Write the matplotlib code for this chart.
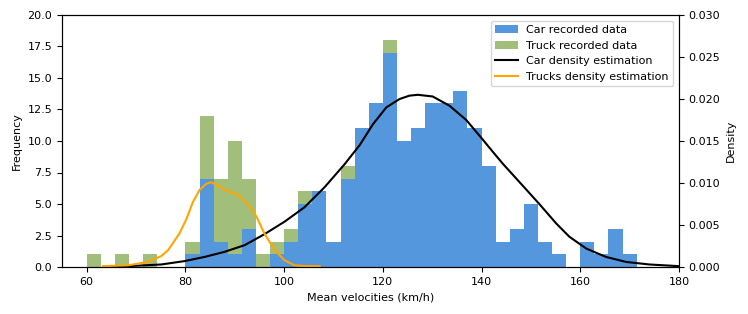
import numpy as np
import matplotlib
matplotlib.use("Agg")
import matplotlib.pyplot as plt

# histogram bins (km/h): 40 bins of width 20/7 starting at 60
bin_edges = 60 + np.arange(41) * (20 / 7)

car_counts = [0, 0, 0, 0, 0, 0, 0, 1, 7, 2, 1, 3, 0, 1, 2, 5, 6, 2, 7, 11,
              13, 17, 10, 11, 13, 13, 14, 11, 8, 2, 3, 5, 2, 1, 0, 2, 1, 3, 1, 0]
truck_counts = [1, 0, 1, 0, 1, 0, 0, 1, 5, 5, 9, 4, 1, 1, 1, 1, 0, 0, 1, 0,
                0, 1, 0, 0, 0, 0, 0, 0, 0, 0, 0, 0, 0, 0, 0, 0, 0, 0, 0, 0]

# density curves
car_kde_x = [63.3, 68.4, 75.1, 79.8, 83.9, 87.9, 92.0, 96.0, 100.1, 104.1, 108.2,
             112.2, 115.3, 118.0, 120.7, 123.4, 125.4, 127.1, 130.1, 133.5, 136.9,
             140.2, 142.3, 144.3, 147.7, 151.7, 155.1, 157.8, 161.2, 165.2, 169.3,
             174.0, 180.0]
car_kde_y = [0.0000, 0.0001, 0.0003, 0.0007, 0.0012, 0.0018, 0.0026, 0.0039, 0.0054,
             0.0071, 0.0095, 0.0122, 0.0145, 0.0170, 0.0190, 0.0200, 0.0204, 0.0205,
             0.0203, 0.0192, 0.0175, 0.0152, 0.0137, 0.0123, 0.0101, 0.0075, 0.0052,
             0.0036, 0.0022, 0.0012, 0.0006, 0.0003, 0.0001]

truck_kde_x = [63.3, 68.4, 72.4, 75.1, 76.5, 78.8, 80.2, 81.5, 82.9, 84.2, 85.2,
               86.6, 88.3, 90.3, 92.0, 93.0, 94.4, 96.0, 98.1, 100.1, 102.1,
               104.5, 107.2]
truck_kde_y = [0.0001, 0.0002, 0.0006, 0.0013, 0.0020, 0.0040, 0.0057, 0.0077,
               0.0092, 0.0099, 0.0101, 0.0097, 0.0091, 0.0087, 0.0079, 0.0072,
               0.0060, 0.0040, 0.0020, 0.0008, 0.0002, 0.0001, 0.0001]

plt.rcParams["font.size"] = 8

fig = plt.figure(figsize=(7.48, 3.14), dpi=100)
ax1 = fig.add_axes([62 / 748, 1 - 267 / 314, 617 / 748, 252 / 314])
ax2 = ax1.twinx()

widths = np.diff(bin_edges)
ax1.bar(bin_edges[:-1], car_counts, width=widths, align="edge",
        color="#5597dc", label="Car recorded data")
ax1.bar(bin_edges[:-1], truck_counts, width=widths, align="edge",
        bottom=car_counts, color="#a1bf7b", label="Truck recorded data")

ax2.plot(car_kde_x, car_kde_y, color="black", label="Car density estimation")
ax2.plot(truck_kde_x, truck_kde_y, color="orange", label="Trucks density estimation")

ax1.set_xlim(55, 180)
ax1.set_ylim(0, 20)
ax1.set_yticks(np.arange(0, 20.1, 2.5))
ax2.set_ylim(0, 0.030)
ax2.set_yticks(np.arange(0, 0.0301, 0.005))
ax2.yaxis.set_major_formatter(matplotlib.ticker.FormatStrFormatter("%.3f"))

ax1.set_xlabel("Mean velocities (km/h)")
ax1.set_ylabel("Frequency")
ax2.set_ylabel("Density")

h1, l1 = ax1.get_legend_handles_labels()
h2, l2 = ax2.get_legend_handles_labels()
ax2.legend(h1 + h2, l1 + l2, loc="upper right")

plt.savefig("out.png", dpi=100)
plt.close()
